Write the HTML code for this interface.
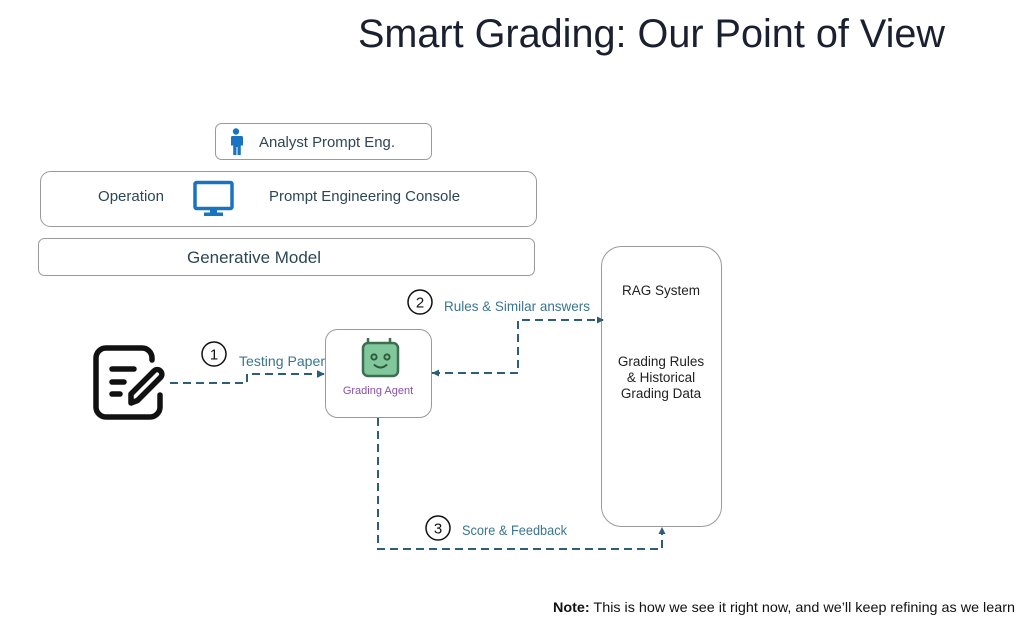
<!DOCTYPE html>
<html><head><meta charset="utf-8"><style>
html,body{margin:0;padding:0;background:#fff;}
svg{display:block;}
</style></head><body>
<svg width="1024" height="627" viewBox="0 0 1024 627" xmlns="http://www.w3.org/2000/svg" font-family="'Liberation Sans', sans-serif">
<defs>
<marker id="ah" viewBox="0 0 10 10" refX="9" refY="5" markerWidth="4" markerHeight="4" orient="auto"><path d="M0,0 L10,5 L0,10 z" fill="#2e5d77"/></marker>
</defs>
<rect width="1024" height="627" fill="#fff"/>
<!-- Title -->
<text x="358" y="47" font-size="40" fill="#1a2030" textLength="587" lengthAdjust="spacingAndGlyphs">Smart Grading: Our Point of View</text>

<!-- Analyst box -->
<rect x="215.5" y="123.5" width="216" height="36" rx="6" fill="#fff" stroke="#9a9a9a" stroke-width="1"/>
<g fill="#1a73c0">
<circle cx="236" cy="131.5" r="3.2"/>
<path d="M230.5,136 h11 a1.5,1.5 0 0 1 1.5,1.5 v8 h-2.2 v-0 h-0 v9.5 h-3.3 v-8 h-1 v8 h-3.3 v-9.5 h-2.2 v-8 a1.5,1.5 0 0 1 1.5,-1.5 z"/>
</g>
<text x="259" y="147" font-size="15" fill="#2d4656" textLength="136" lengthAdjust="spacingAndGlyphs">Analyst Prompt Eng.</text>

<!-- Operation box -->
<rect x="40.5" y="171.5" width="496" height="55" rx="10" fill="#fff" stroke="#9a9a9a" stroke-width="1"/>
<text x="98" y="201" font-size="15" fill="#2d4656" textLength="66" lengthAdjust="spacingAndGlyphs">Operation</text>
<rect x="195" y="182.5" width="37" height="26" rx="1.5" fill="none" stroke="#1a73c0" stroke-width="3.5"/>
<rect x="210" y="209" width="7" height="4" fill="#1a73c0"/>
<rect x="204" y="212.5" width="19" height="3.5" fill="#1a73c0"/>
<text x="269" y="201" font-size="15" fill="#2d4656" textLength="191" lengthAdjust="spacingAndGlyphs">Prompt Engineering Console</text>

<!-- Generative model box -->
<rect x="38.5" y="238.5" width="496" height="37" rx="6" fill="#fff" stroke="#9a9a9a" stroke-width="1"/>
<text x="187" y="263" font-size="17" fill="#2d4656" textLength="134" lengthAdjust="spacingAndGlyphs">Generative Model</text>

<!-- RAG box -->
<rect x="601.5" y="246.5" width="120" height="280" rx="20" fill="#fff" stroke="#9a9a9a" stroke-width="1"/>
<g font-size="13.5" fill="#222" text-anchor="middle">
<text x="661" y="295">RAG System</text>
<text x="661" y="366">Grading Rules</text>
<text x="661" y="382">&amp; Historical</text>
<text x="661" y="398">Grading Data</text>
</g>

<!-- Grading agent box -->
<rect x="325.5" y="329.5" width="106" height="88" rx="12" fill="#fff" stroke="#9a9a9a" stroke-width="1"/>
<g stroke="#3d6e4f" stroke-width="2.5" fill="none">
<line x1="368" y1="338" x2="368" y2="343"/>
<line x1="390" y1="338" x2="390" y2="343"/>
</g>
<rect x="363" y="343" width="35" height="33" rx="5" fill="#80c79c" stroke="#3d6e4f" stroke-width="2.5"/>
<circle cx="374" cy="357" r="2.6" fill="none" stroke="#2f5a40" stroke-width="2"/>
<circle cx="387" cy="357" r="2.6" fill="none" stroke="#2f5a40" stroke-width="2"/>
<path d="M374.5,365 q6,5 12,0" fill="none" stroke="#2f5a40" stroke-width="2" stroke-linecap="round"/>
<text x="378" y="394" font-size="11" fill="#8a4fa8" text-anchor="middle">Grading Agent</text>

<!-- Testing paper icon -->
<g fill="none" stroke="#111" stroke-width="5.5" stroke-linecap="round" stroke-linejoin="round">
<path d="M152,360 V358 a10,10 0 0 0 -10,-10 H106 a10,10 0 0 0 -10,10 V407 a10,10 0 0 0 10,10 H150 a10,10 0 0 0 10,-10 V395"/>
<line x1="112" y1="369" x2="134" y2="369"/>
<line x1="112" y1="382" x2="124" y2="382"/>
<line x1="112" y1="394" x2="120" y2="394"/>
<path d="M131,403 L131,394 L154,371 a4.5,4.5 0 0 1 6.5,6.5 L137.5,400.5 Z"/>
</g>

<!-- Connector 1 -->
<path d="M170,383 H247 V374 H324" fill="none" stroke="#2e5d77" stroke-width="2" stroke-dasharray="8,5" marker-end="url(#ah)"/>
<circle cx="214" cy="354" r="12" fill="#fff" stroke="#111" stroke-width="1.5"/>
<text x="214" y="359.5" font-size="15" fill="#111" text-anchor="middle">1</text>
<text x="239" y="366" font-size="14" fill="#3a7590" textLength="86" lengthAdjust="spacingAndGlyphs">Testing Paper</text>

<!-- Connector 2 -->
<path d="M432,373 H518 V320 H603" fill="none" stroke="#2e5d77" stroke-width="2" stroke-dasharray="8,5"/>
<path d="M432,373 l7,-3.5 v7 z" fill="#2e5d77"/>
<path d="M604,320 l-7,-3.5 v7 z" fill="#2e5d77"/>
<circle cx="420" cy="302" r="12" fill="#fff" stroke="#111" stroke-width="1.5"/>
<text x="420" y="307.5" font-size="15" fill="#111" text-anchor="middle">2</text>
<text x="444" y="311" font-size="14" fill="#3a7590" textLength="146" lengthAdjust="spacingAndGlyphs">Rules &amp; Similar answers</text>

<!-- Connector 3 -->
<path d="M378,418 V549 H662 V534" fill="none" stroke="#2e5d77" stroke-width="2" stroke-dasharray="8,5"/>
<path d="M662,527 l-3.5,7 h7 z" fill="#2e5d77"/>
<circle cx="438" cy="528" r="12" fill="#fff" stroke="#111" stroke-width="1.5"/>
<text x="438" y="533.5" font-size="15" fill="#111" text-anchor="middle">3</text>
<text x="462" y="535" font-size="14" fill="#3a7590" textLength="105" lengthAdjust="spacingAndGlyphs">Score &amp; Feedback</text>

<!-- Note -->
<text x="553" y="612" font-size="14" fill="#111" textLength="462" lengthAdjust="spacingAndGlyphs"><tspan font-weight="bold">Note:</tspan> This is how we see it right now, and we’ll keep refining as we learn</text>
</svg>
</body></html>
